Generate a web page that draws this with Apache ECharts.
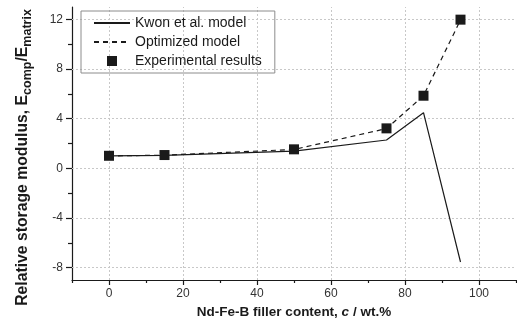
<!DOCTYPE html>
<html>
<head>
<meta charset="utf-8">
<script src="https://cdn.jsdelivr.net/npm/echarts@6/dist/echarts.min.js"></script>
<style>
  html, body { margin: 0; padding: 0; background: #fff; }
  #chart { width: 517px; height: 329px; }
</style>
</head>
<body>
<div id="chart"></div>
<script>
// Filler content (wt.%) at which the samples were measured
const fillerContent = [0, 15, 50, 75, 85, 95];
// Relative storage modulus E_comp / E_matrix
const kwonModel = [1.0, 1.05, 1.38, 2.28, 4.48, -7.55];
const optimizedModel = [1.0, 1.06, 1.52, 3.2, 5.85, 11.95];
const experimental = [1.01, 1.07, 1.53, 3.22, 5.85, 11.98];

// Axis ticks and labels
const xMajorTicks = [0, 20, 40, 60, 80, 100];
const xMinorTicks = [-10, 10, 30, 50, 70, 90, 110];
const yMajorTicks = [-8, -4, 0, 4, 8, 12];
const yMinorTicks = [-6, -2, 2, 6, 10];

const pairs = (xs, ys) => xs.map((x, i) => [x, ys[i]]);

const font = 'Liberation Sans, Arial, sans-serif';
const ink = '#1a1a1a';
const gridStyle = { color: '#c8c8c8', width: 1, type: [2, 2] };
const hiddenMarker = { color: 'rgba(0,0,0,0)', borderColor: 'rgba(0,0,0,0)', borderWidth: 0 };

const X_RANGE = { min: -10, max: 110 };
const Y_RANGE = { min: -9, max: 13 };

const chart = echarts.init(document.getElementById('chart'), null, { renderer: 'canvas' });

chart.setOption({
  animation: false,
  backgroundColor: '#fff',
  grid: { left: 72, right: 1, top: 7, bottom: 49, containLabel: false },
  legend: {
    orient: 'vertical',
    left: 81,
    top: 11,
    padding: [5, 13, 5, 12],
    itemGap: 5,
    itemWidth: 36,
    itemHeight: 10,
    borderColor: '#8c8c8c',
    borderWidth: 1,
    symbolKeepAspect: true,
    textStyle: { fontFamily: font, fontSize: 14, color: '#1a1a1a' },
    data: [
      { name: 'Kwon et al. model', itemStyle: hiddenMarker },
      { name: 'Optimized model', itemStyle: hiddenMarker },
      { name: 'Experimental results', icon: 'path://M0,0h10v10h-10z', itemStyle: { color: ink, opacity: 1 } }
    ]
  },
  xAxis: [
    {
      type: 'value',
      ...X_RANGE,
      name: 'Nd-Fe-B filler content, {i|c} / wt.%',
      nameLocation: 'middle',
      nameGap: 24,
      nameTextStyle: {
        fontFamily: font, fontSize: 13.5, fontWeight: 'bold', color: '#1a1a1a',
        rich: { i: { fontFamily: font, fontSize: 13.5, fontWeight: 'bold', fontStyle: 'italic', color: '#1a1a1a' } }
      },
      axisLine: { show: true, onZero: false, lineStyle: { color: ink, width: 1.2 } },
      axisTick: { show: true, length: 5, customValues: xMajorTicks, lineStyle: { color: ink, width: 1.2 } },
      axisLabel: { customValues: xMajorTicks, margin: 8, fontFamily: font, fontSize: 12, color: '#333' },
      splitLine: { show: false }
    },
    {
      type: 'value',
      ...X_RANGE,
      position: 'bottom',
      axisLine: { show: false, onZero: false },
      axisTick: { show: true, length: 3, customValues: xMinorTicks, lineStyle: { color: ink, width: 1.2 } },
      axisLabel: { show: false },
      splitLine: { show: false }
    }
  ],
  yAxis: [
    {
      type: 'value',
      ...Y_RANGE,
      name: 'Relative storage modulus, E{s|comp}/E{s|matrix}',
      nameLocation: 'middle',
      nameGap: 38,
      nameTextStyle: {
        fontFamily: font, fontSize: 15.75, fontWeight: 'bold', color: '#1a1a1a',
        padding: [0, 28, 0, 0],
        rich: { s: { fontFamily: font, fontSize: 12.5, fontWeight: 'bold', color: '#1a1a1a', padding: [9, 0, 0, 0] } }
      },
      axisLine: { show: true, onZero: false, lineStyle: { color: ink, width: 1.2 } },
      axisTick: { show: true, length: 6, customValues: yMajorTicks, lineStyle: { color: ink, width: 1.2 } },
      axisLabel: { customValues: yMajorTicks, margin: 9, fontFamily: font, fontSize: 12, color: '#333' },
      splitLine: { show: false }
    },
    {
      type: 'value',
      ...Y_RANGE,
      position: 'left',
      axisLine: { show: false, onZero: false },
      axisTick: { show: true, length: 4, customValues: yMinorTicks, lineStyle: { color: ink, width: 1.2 } },
      axisLabel: { show: false },
      splitLine: { show: false }
    }
  ],
  series: [
    {
      name: 'Kwon et al. model',
      type: 'line',
      data: pairs(fillerContent, kwonModel),
      symbol: 'none',
      lineStyle: { color: ink, width: 1.2, type: 'solid' },
      itemStyle: { color: ink },
      z: 3,
      // dotted reference grid at the major tick values
      markLine: {
        silent: true,
        symbol: 'none',
        label: { show: false },
        lineStyle: gridStyle,
        data: [
          ...xMajorTicks.map(v => ({ xAxis: v })),
          ...yMajorTicks.map(v => ({ yAxis: v }))
        ],
        z: 1
      }
    },
    {
      name: 'Optimized model',
      type: 'line',
      data: pairs(fillerContent, optimizedModel),
      symbol: 'none',
      lineStyle: { color: ink, width: 1.2, type: [5, 4] },
      itemStyle: { color: ink },
      z: 3
    },
    {
      name: 'Experimental results',
      type: 'scatter',
      data: pairs(fillerContent, experimental),
      symbol: 'rect',
      symbolSize: 10,
      itemStyle: { color: ink, opacity: 1 },
      z: 5
    }
  ]
});
</script>
</body>
</html>
